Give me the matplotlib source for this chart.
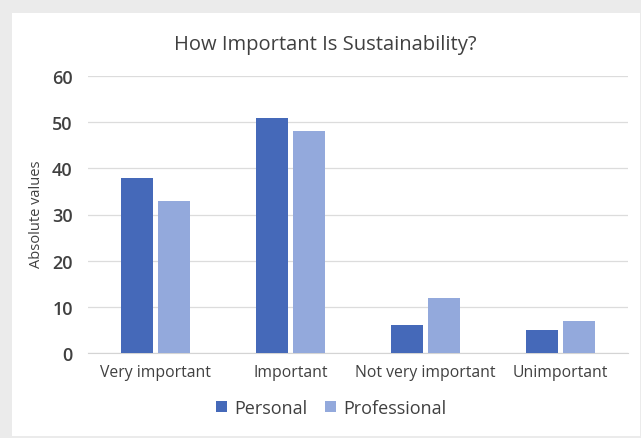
import numpy as np
import matplotlib
matplotlib.use("Agg")
import matplotlib.pyplot as plt
from matplotlib.patches import Rectangle

categories = ["Very important", "Important", "Not very important", "Unimportant"]
personal = [38, 51, 6, 5]
professional = [33, 48, 12, 7]

C_PERS = "#4569B9"
C_PROF = "#93A9DC"
TXT = "#404040"

plt.rcParams["font.family"] = ["Open Sans", "DejaVu Sans"]

fig = plt.figure(figsize=(6.41, 4.39), dpi=100)
fig.patch.set_facecolor("#ebebeb")
fig.patches.append(Rectangle((12 / 641, 2 / 439), 628 / 641, 423 / 439,
                             transform=fig.transFigure, facecolor="white",
                             edgecolor="none", zorder=-10))

ax = fig.add_axes([88 / 641, 1 - 354 / 439, 540 / 641, 277 / 439])
ax.set_facecolor("none")

x = np.arange(len(categories))
w = 0.24
ax.bar(x - 0.137, personal, w, color=C_PERS, label="Personal", zorder=3)
ax.bar(x + 0.137, professional, w, color=C_PROF, label="Professional", zorder=3)

ax.set_xlim(-0.5, len(categories) - 0.5)
ax.set_ylim(0, 60)
ax.set_yticks(range(0, 61, 10))
ax.yaxis.grid(True, color="#dcdcdc", lw=0.9, zorder=0)
ax.set_axisbelow(True)
for s in ["top", "right", "left"]:
    ax.spines[s].set_visible(False)
ax.spines["bottom"].set_color("#d4d4d4")
ax.tick_params(axis="both", length=0, colors=TXT)
ax.tick_params(axis="y", labelsize=13, pad=11)
ax.tick_params(axis="x", labelsize=11.3, pad=8)
ax.set_xticks(x)
ax.set_xticklabels(categories)
for t in ax.get_yticklabels():
    t.set_fontweight("semibold")

fig.text(37 / 641, 1 - 214 / 439, "Absolute values", rotation=90,
         ha="center", va="center", fontsize=10.5, color=TXT)
fig.text(325 / 641, 1 - 45 / 439, "How Important Is Sustainability?",
         ha="center", va="center", fontsize=14.5, color=TXT)

ax.legend(loc="center", bbox_to_anchor=(331 / 641, 1 - 409 / 439),
          bbox_transform=fig.transFigure, ncol=2, frameon=False,
          fontsize=13, handlelength=0.6, handleheight=0.6,
          handletextpad=0.4, columnspacing=1.0, labelcolor=TXT)

fig.savefig("out.png", dpi=100, facecolor=fig.get_facecolor())
